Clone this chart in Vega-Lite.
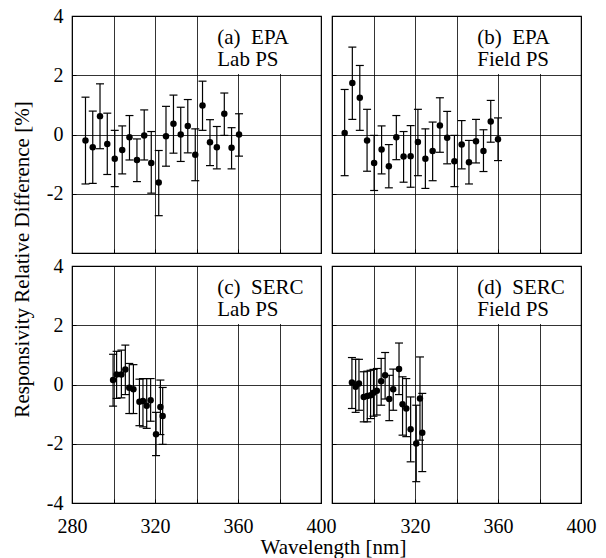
{
  "$schema": "https://vega.github.io/schema/vega-lite/v6.json",
  "background": "white",
  "padding": {"left": 10, "top": 5, "right": 5, "bottom": 5},
  "datasets": {
    "pts": [
      {"p":"a","wl":286.5,"v":-0.20,"lo":-1.67,"hi":1.26},
      {"p":"a","wl":290.0,"v":-0.43,"lo":-1.65,"hi":0.79},
      {"p":"a","wl":293.5,"v":0.62,"lo":-0.48,"hi":1.71},
      {"p":"a","wl":297.0,"v":-0.32,"lo":-1.35,"hi":0.72},
      {"p":"a","wl":300.6,"v":-0.82,"lo":-1.76,"hi":0.14},
      {"p":"a","wl":304.2,"v":-0.52,"lo":-1.33,"hi":0.29},
      {"p":"a","wl":307.7,"v":-0.09,"lo":-0.86,"hi":0.64},
      {"p":"a","wl":311.3,"v":-0.86,"lo":-1.59,"hi":-0.15},
      {"p":"a","wl":314.8,"v":-0.03,"lo":-0.86,"hi":0.83},
      {"p":"a","wl":318.2,"v":-0.96,"lo":-1.98,"hi":0.10},
      {"p":"a","wl":321.8,"v":-1.62,"lo":-2.74,"hi":-0.54},
      {"p":"a","wl":325.3,"v":-0.06,"lo":-1.07,"hi":0.95},
      {"p":"a","wl":328.9,"v":0.36,"lo":-0.63,"hi":1.33},
      {"p":"a","wl":332.4,"v":0.00,"lo":-0.91,"hi":0.92},
      {"p":"a","wl":335.8,"v":0.29,"lo":-0.62,"hi":1.18},
      {"p":"a","wl":339.4,"v":-0.68,"lo":-1.56,"hi":0.19},
      {"p":"a","wl":342.9,"v":0.98,"lo":0.14,"hi":1.80},
      {"p":"a","wl":346.5,"v":-0.26,"lo":-1.05,"hi":0.50},
      {"p":"a","wl":349.8,"v":-0.43,"lo":-1.16,"hi":0.27},
      {"p":"a","wl":353.4,"v":0.70,"lo":-0.03,"hi":1.40},
      {"p":"a","wl":356.9,"v":-0.45,"lo":-1.16,"hi":0.23},
      {"p":"a","wl":360.5,"v":0.00,"lo":-0.73,"hi":0.70},
      {"p":"b","wl":286.1,"v":0.05,"lo":-1.39,"hi":1.52},
      {"p":"b","wl":289.8,"v":1.74,"lo":0.51,"hi":2.95},
      {"p":"b","wl":293.4,"v":1.24,"lo":0.14,"hi":2.33},
      {"p":"b","wl":296.9,"v":-0.20,"lo":-1.24,"hi":0.85},
      {"p":"b","wl":300.3,"v":-0.96,"lo":-1.89,"hi":-0.03},
      {"p":"b","wl":303.9,"v":-0.51,"lo":-1.33,"hi":0.29},
      {"p":"b","wl":307.4,"v":-1.07,"lo":-1.80,"hi":-0.34},
      {"p":"b","wl":311.0,"v":-0.09,"lo":-0.85,"hi":0.64},
      {"p":"b","wl":314.5,"v":-0.74,"lo":-1.61,"hi":0.10},
      {"p":"b","wl":317.9,"v":-0.73,"lo":-1.78,"hi":0.30},
      {"p":"b","wl":321.4,"v":-0.25,"lo":-1.39,"hi":0.85},
      {"p":"b","wl":325.0,"v":-0.82,"lo":-1.82,"hi":0.19},
      {"p":"b","wl":328.5,"v":-0.56,"lo":-1.56,"hi":0.42},
      {"p":"b","wl":332.0,"v":0.30,"lo":-0.60,"hi":1.24},
      {"p":"b","wl":335.5,"v":-0.11,"lo":-0.99,"hi":0.78},
      {"p":"b","wl":339.0,"v":-0.90,"lo":-1.76,"hi":-0.03},
      {"p":"b","wl":342.5,"v":-0.34,"lo":-1.16,"hi":0.47},
      {"p":"b","wl":346.0,"v":-0.94,"lo":-1.67,"hi":-0.20},
      {"p":"b","wl":349.4,"v":-0.23,"lo":-0.96,"hi":0.51},
      {"p":"b","wl":353.0,"v":-0.56,"lo":-1.25,"hi":0.16},
      {"p":"b","wl":356.5,"v":0.44,"lo":-0.26,"hi":1.15},
      {"p":"b","wl":360.0,"v":-0.16,"lo":-0.88,"hi":0.56},
      {"p":"c","wl":299.8,"v":0.15,"lo":-0.73,"hi":1.02},
      {"p":"c","wl":301.5,"v":0.34,"lo":-0.47,"hi":1.12},
      {"p":"c","wl":303.8,"v":0.34,"lo":-0.45,"hi":1.16},
      {"p":"c","wl":305.7,"v":0.51,"lo":-0.34,"hi":1.33},
      {"p":"c","wl":307.6,"v":-0.11,"lo":-0.98,"hi":0.71},
      {"p":"c","wl":309.6,"v":-0.16,"lo":-0.98,"hi":0.67},
      {"p":"c","wl":312.5,"v":-0.58,"lo":-1.39,"hi":0.18},
      {"p":"c","wl":314.2,"v":-0.56,"lo":-1.43,"hi":0.20},
      {"p":"c","wl":316.0,"v":-0.72,"lo":-1.48,"hi":0.20},
      {"p":"c","wl":317.9,"v":-0.53,"lo":-1.24,"hi":0.20},
      {"p":"c","wl":320.5,"v":-1.68,"lo":-2.40,"hi":-0.94},
      {"p":"c","wl":322.6,"v":-0.76,"lo":-1.69,"hi":0.15},
      {"p":"c","wl":323.7,"v":-1.06,"lo":-2.02,"hi":-0.10},
      {"p":"d","wl":289.6,"v":0.07,"lo":-0.81,"hi":0.91},
      {"p":"d","wl":291.4,"v":-0.08,"lo":-0.94,"hi":0.85},
      {"p":"d","wl":293.0,"v":0.03,"lo":-0.87,"hi":0.85},
      {"p":"d","wl":295.3,"v":-0.42,"lo":-1.26,"hi":0.43},
      {"p":"d","wl":297.0,"v":-0.39,"lo":-1.26,"hi":0.45},
      {"p":"d","wl":298.6,"v":-0.36,"lo":-1.15,"hi":0.48},
      {"p":"d","wl":300.0,"v":-0.28,"lo":-1.07,"hi":0.51},
      {"p":"d","wl":301.6,"v":-0.21,"lo":-1.03,"hi":0.54},
      {"p":"d","wl":303.7,"v":0.11,"lo":-0.70,"hi":0.88},
      {"p":"d","wl":305.6,"v":0.31,"lo":-0.49,"hi":1.08},
      {"p":"d","wl":307.6,"v":-0.49,"lo":-1.22,"hi":0.31},
      {"p":"d","wl":309.5,"v":-0.16,"lo":-0.87,"hi":0.52},
      {"p":"d","wl":312.3,"v":0.52,"lo":-0.34,"hi":1.40},
      {"p":"d","wl":314.0,"v":-0.67,"lo":-1.71,"hi":0.26},
      {"p":"d","wl":315.8,"v":-0.81,"lo":-1.76,"hi":0.20},
      {"p":"d","wl":317.9,"v":-1.51,"lo":-2.61,"hi":-0.42},
      {"p":"d","wl":320.6,"v":-1.99,"lo":-3.28,"hi":-0.70},
      {"p":"d","wl":322.4,"v":-0.47,"lo":-1.88,"hi":0.93},
      {"p":"d","wl":323.5,"v":-1.63,"lo":-2.94,"hi":-0.30}
    ],
    "labels": [
      {"p":"a","t":["(a)\u00a0 EPA","Lab PS"]},
      {"p":"b","t":["(b)\u00a0 EPA","Field PS"]},
      {"p":"c","t":["(c)\u00a0 SERC","Lab PS"]},
      {"p":"d","t":["(d)\u00a0 SERC","Field PS"]}
    ]
  },
  "columns": 2,
  "spacing": {"row": 13, "column": 11},
  "bounds": "flush",
  "concat": [
    {
      "width": 249, "height": 237,
      "layer": [
        {"data":{"name":"labels"},"transform":[{"filter":"datum.p==='a'"}],
         "mark":{"type":"rect","fill":"white","stroke":null},
         "encoding":{"x":{"datum":345,"type":"quantitative"},"x2":{"datum":399.6},"y":{"datum":2.04,"type":"quantitative"},"y2":{"datum":3.97}}},
        {"data":{"name":"pts"},"transform":[{"filter":"datum.p==='a'"}],
         "mark":{"type":"rule","color":"black","strokeWidth":1.2},
         "encoding":{"x":{"field":"wl","type":"quantitative"},"y":{"field":"lo","type":"quantitative"},"y2":{"field":"hi"}}},
        {"data":{"name":"pts"},"transform":[{"filter":"datum.p==='a'"}],
         "mark":{"type":"tick","orient":"horizontal","size":8,"thickness":1.2,"color":"black","opacity":1},
         "encoding":{"x":{"field":"wl","type":"quantitative"},"y":{"field":"lo","type":"quantitative"}}},
        {"data":{"name":"pts"},"transform":[{"filter":"datum.p==='a'"}],
         "mark":{"type":"tick","orient":"horizontal","size":8,"thickness":1.2,"color":"black","opacity":1},
         "encoding":{"x":{"field":"wl","type":"quantitative"},"y":{"field":"hi","type":"quantitative"}}},
        {"data":{"name":"pts"},"transform":[{"filter":"datum.p==='a'"}],
         "mark":{"type":"circle","size":42,"color":"black","opacity":1},
         "encoding":{
           "x":{"field":"wl","type":"quantitative","scale":{"domain":[280,400],"nice":false,"zero":false},
                "axis":{"values":[280,285,290,295,300,305,310,315,320,325,330,335,340,345,350,355,360,365,370,375,380,385,390,395,400],"grid":true,"gridOpacity":{"condition":{"test":"datum.value % 20 === 0","value":1},"value":0},"tickSize":-4,"labels":false,"title":null}},
           "y":{"field":"v","type":"quantitative","scale":{"domain":[-4,4],"nice":false,"zero":false},
                "axis":{"values":[-4,-3.5,-3,-2.5,-2,-1.5,-1,-0.5,0,0.5,1,1.5,2,2.5,3,3.5,4],"grid":true,"gridOpacity":{"condition":{"test":"datum.value % 2 === 0","value":1},"value":0},"tickSize":-4,"labelPadding":13,"labelExpr":"datum.value % 2 === 0 && datum.value > -4 ? '' + datum.value : ''","title":"Responsivity Relative Difference [%]","titleX":-44,"titleY":243,"titleAngle":-90,"titleAlign":"center","titleBaseline":"alphabetic"}}}},
        {"data":{"name":"labels"},"transform":[{"filter":"datum.p==='a'"}],
         "mark":{"type":"text","align":"left","baseline":"alphabetic","fontSize":21,"lineHeight":22,"color":"black","font":"Liberation Serif"},
         "encoding":{"x":{"datum":350,"type":"quantitative"},"y":{"datum":3.07,"type":"quantitative"},"text":{"field":"t","type":"nominal"}}}
      ]
    },
    {
      "width": 249, "height": 237,
      "layer": [
        {"data":{"name":"labels"},"transform":[{"filter":"datum.p==='b'"}],
         "mark":{"type":"rect","fill":"white","stroke":null},
         "encoding":{"x":{"datum":345,"type":"quantitative"},"x2":{"datum":399.6},"y":{"datum":2.04,"type":"quantitative"},"y2":{"datum":3.97}}},
        {"data":{"name":"pts"},"transform":[{"filter":"datum.p==='b'"}],
         "mark":{"type":"rule","color":"black","strokeWidth":1.2},
         "encoding":{"x":{"field":"wl","type":"quantitative"},"y":{"field":"lo","type":"quantitative"},"y2":{"field":"hi"}}},
        {"data":{"name":"pts"},"transform":[{"filter":"datum.p==='b'"}],
         "mark":{"type":"tick","orient":"horizontal","size":8,"thickness":1.2,"color":"black","opacity":1},
         "encoding":{"x":{"field":"wl","type":"quantitative"},"y":{"field":"lo","type":"quantitative"}}},
        {"data":{"name":"pts"},"transform":[{"filter":"datum.p==='b'"}],
         "mark":{"type":"tick","orient":"horizontal","size":8,"thickness":1.2,"color":"black","opacity":1},
         "encoding":{"x":{"field":"wl","type":"quantitative"},"y":{"field":"hi","type":"quantitative"}}},
        {"data":{"name":"pts"},"transform":[{"filter":"datum.p==='b'"}],
         "mark":{"type":"circle","size":42,"color":"black","opacity":1},
         "encoding":{
           "x":{"field":"wl","type":"quantitative","scale":{"domain":[280,400],"nice":false,"zero":false},
                "axis":{"values":[280,285,290,295,300,305,310,315,320,325,330,335,340,345,350,355,360,365,370,375,380,385,390,395,400],"grid":true,"gridOpacity":{"condition":{"test":"datum.value % 20 === 0","value":1},"value":0},"tickSize":-4,"labels":false,"title":null}},
           "y":{"field":"v","type":"quantitative","scale":{"domain":[-4,4],"nice":false,"zero":false},
                "axis":{"values":[-4,-3.5,-3,-2.5,-2,-1.5,-1,-0.5,0,0.5,1,1.5,2,2.5,3,3.5,4],"grid":true,"gridOpacity":{"condition":{"test":"datum.value % 2 === 0","value":1},"value":0},"tickSize":-4,"labels":false,"title":null}}}},
        {"data":{"name":"labels"},"transform":[{"filter":"datum.p==='b'"}],
         "mark":{"type":"text","align":"left","baseline":"alphabetic","fontSize":21,"lineHeight":22,"color":"black","font":"Liberation Serif"},
         "encoding":{"x":{"datum":350,"type":"quantitative"},"y":{"datum":3.07,"type":"quantitative"},"text":{"field":"t","type":"nominal"}}}
      ]
    },
    {
      "width": 249, "height": 237,
      "layer": [
        {"data":{"name":"labels"},"transform":[{"filter":"datum.p==='c'"}],
         "mark":{"type":"rect","fill":"white","stroke":null},
         "encoding":{"x":{"datum":345,"type":"quantitative"},"x2":{"datum":399.6},"y":{"datum":2.04,"type":"quantitative"},"y2":{"datum":3.97}}},
        {"data":{"name":"pts"},"transform":[{"filter":"datum.p==='c'"}],
         "mark":{"type":"rule","color":"black","strokeWidth":1.2},
         "encoding":{"x":{"field":"wl","type":"quantitative"},"y":{"field":"lo","type":"quantitative"},"y2":{"field":"hi"}}},
        {"data":{"name":"pts"},"transform":[{"filter":"datum.p==='c'"}],
         "mark":{"type":"tick","orient":"horizontal","size":8,"thickness":1.2,"color":"black","opacity":1},
         "encoding":{"x":{"field":"wl","type":"quantitative"},"y":{"field":"lo","type":"quantitative"}}},
        {"data":{"name":"pts"},"transform":[{"filter":"datum.p==='c'"}],
         "mark":{"type":"tick","orient":"horizontal","size":8,"thickness":1.2,"color":"black","opacity":1},
         "encoding":{"x":{"field":"wl","type":"quantitative"},"y":{"field":"hi","type":"quantitative"}}},
        {"data":{"name":"pts"},"transform":[{"filter":"datum.p==='c'"}],
         "mark":{"type":"circle","size":42,"color":"black","opacity":1},
         "encoding":{
           "x":{"field":"wl","type":"quantitative","scale":{"domain":[280,400],"nice":false,"zero":false},
                "axis":{"values":[280,285,290,295,300,305,310,315,320,325,330,335,340,345,350,355,360,365,370,375,380,385,390,395,400],"grid":true,"gridOpacity":{"condition":{"test":"datum.value % 20 === 0","value":1},"value":0},"tickSize":-4,"labelPadding":17,"labelExpr":"datum.value % 40 === 0 ? '' + datum.value : ''","title":"Wavelength [nm]","titleX":261,"titleY":50,"titleAlign":"center","titleBaseline":"alphabetic"}},
           "y":{"field":"v","type":"quantitative","scale":{"domain":[-4,4],"nice":false,"zero":false},
                "axis":{"values":[-4,-3.5,-3,-2.5,-2,-1.5,-1,-0.5,0,0.5,1,1.5,2,2.5,3,3.5,4],"grid":true,"gridOpacity":{"condition":{"test":"datum.value % 2 === 0","value":1},"value":0},"tickSize":-4,"labelPadding":13,"labelExpr":"datum.value % 2 === 0 ? '' + datum.value : ''","title":null}}}},
        {"data":{"name":"labels"},"transform":[{"filter":"datum.p==='c'"}],
         "mark":{"type":"text","align":"left","baseline":"alphabetic","fontSize":21,"lineHeight":22,"color":"black","font":"Liberation Serif"},
         "encoding":{"x":{"datum":350,"type":"quantitative"},"y":{"datum":3.07,"type":"quantitative"},"text":{"field":"t","type":"nominal"}}}
      ]
    },
    {
      "width": 249, "height": 237,
      "layer": [
        {"data":{"name":"labels"},"transform":[{"filter":"datum.p==='d'"}],
         "mark":{"type":"rect","fill":"white","stroke":null},
         "encoding":{"x":{"datum":345,"type":"quantitative"},"x2":{"datum":399.6},"y":{"datum":2.04,"type":"quantitative"},"y2":{"datum":3.97}}},
        {"data":{"name":"pts"},"transform":[{"filter":"datum.p==='d'"}],
         "mark":{"type":"rule","color":"black","strokeWidth":1.2},
         "encoding":{"x":{"field":"wl","type":"quantitative"},"y":{"field":"lo","type":"quantitative"},"y2":{"field":"hi"}}},
        {"data":{"name":"pts"},"transform":[{"filter":"datum.p==='d'"}],
         "mark":{"type":"tick","orient":"horizontal","size":8,"thickness":1.2,"color":"black","opacity":1},
         "encoding":{"x":{"field":"wl","type":"quantitative"},"y":{"field":"lo","type":"quantitative"}}},
        {"data":{"name":"pts"},"transform":[{"filter":"datum.p==='d'"}],
         "mark":{"type":"tick","orient":"horizontal","size":8,"thickness":1.2,"color":"black","opacity":1},
         "encoding":{"x":{"field":"wl","type":"quantitative"},"y":{"field":"hi","type":"quantitative"}}},
        {"data":{"name":"pts"},"transform":[{"filter":"datum.p==='d'"}],
         "mark":{"type":"circle","size":42,"color":"black","opacity":1},
         "encoding":{
           "x":{"field":"wl","type":"quantitative","scale":{"domain":[280,400],"nice":false,"zero":false},
                "axis":{"values":[280,285,290,295,300,305,310,315,320,325,330,335,340,345,350,355,360,365,370,375,380,385,390,395,400],"grid":true,"gridOpacity":{"condition":{"test":"datum.value % 20 === 0","value":1},"value":0},"tickSize":-4,"labelPadding":17,"labelExpr":"datum.value % 40 === 0 && datum.value > 280 ? '' + datum.value : ''","title":null}},
           "y":{"field":"v","type":"quantitative","scale":{"domain":[-4,4],"nice":false,"zero":false},
                "axis":{"values":[-4,-3.5,-3,-2.5,-2,-1.5,-1,-0.5,0,0.5,1,1.5,2,2.5,3,3.5,4],"grid":true,"gridOpacity":{"condition":{"test":"datum.value % 2 === 0","value":1},"value":0},"tickSize":-4,"labels":false,"title":null}}}},
        {"data":{"name":"labels"},"transform":[{"filter":"datum.p==='d'"}],
         "mark":{"type":"text","align":"left","baseline":"alphabetic","fontSize":21,"lineHeight":22,"color":"black","font":"Liberation Serif"},
         "encoding":{"x":{"datum":350,"type":"quantitative"},"y":{"datum":3.07,"type":"quantitative"},"text":{"field":"t","type":"nominal"}}}
      ]
    }
  ],
  "config": {
    "font": "Liberation Serif",
    "view": {"stroke": "black", "strokeWidth": 1.2},
    "axis": {"domain": false, "tickColor": "black", "tickWidth": 1, "gridColor": "black", "gridWidth": 0.8,
             "labelFont": "Liberation Serif", "labelFontSize": 20, "labelColor": "black",
             "titleFont": "Liberation Serif", "titleFontSize": 21, "titleFontWeight": "normal", "titleColor": "black",
             "labelOverlap": false, "labelFlush": false}
  }
}
